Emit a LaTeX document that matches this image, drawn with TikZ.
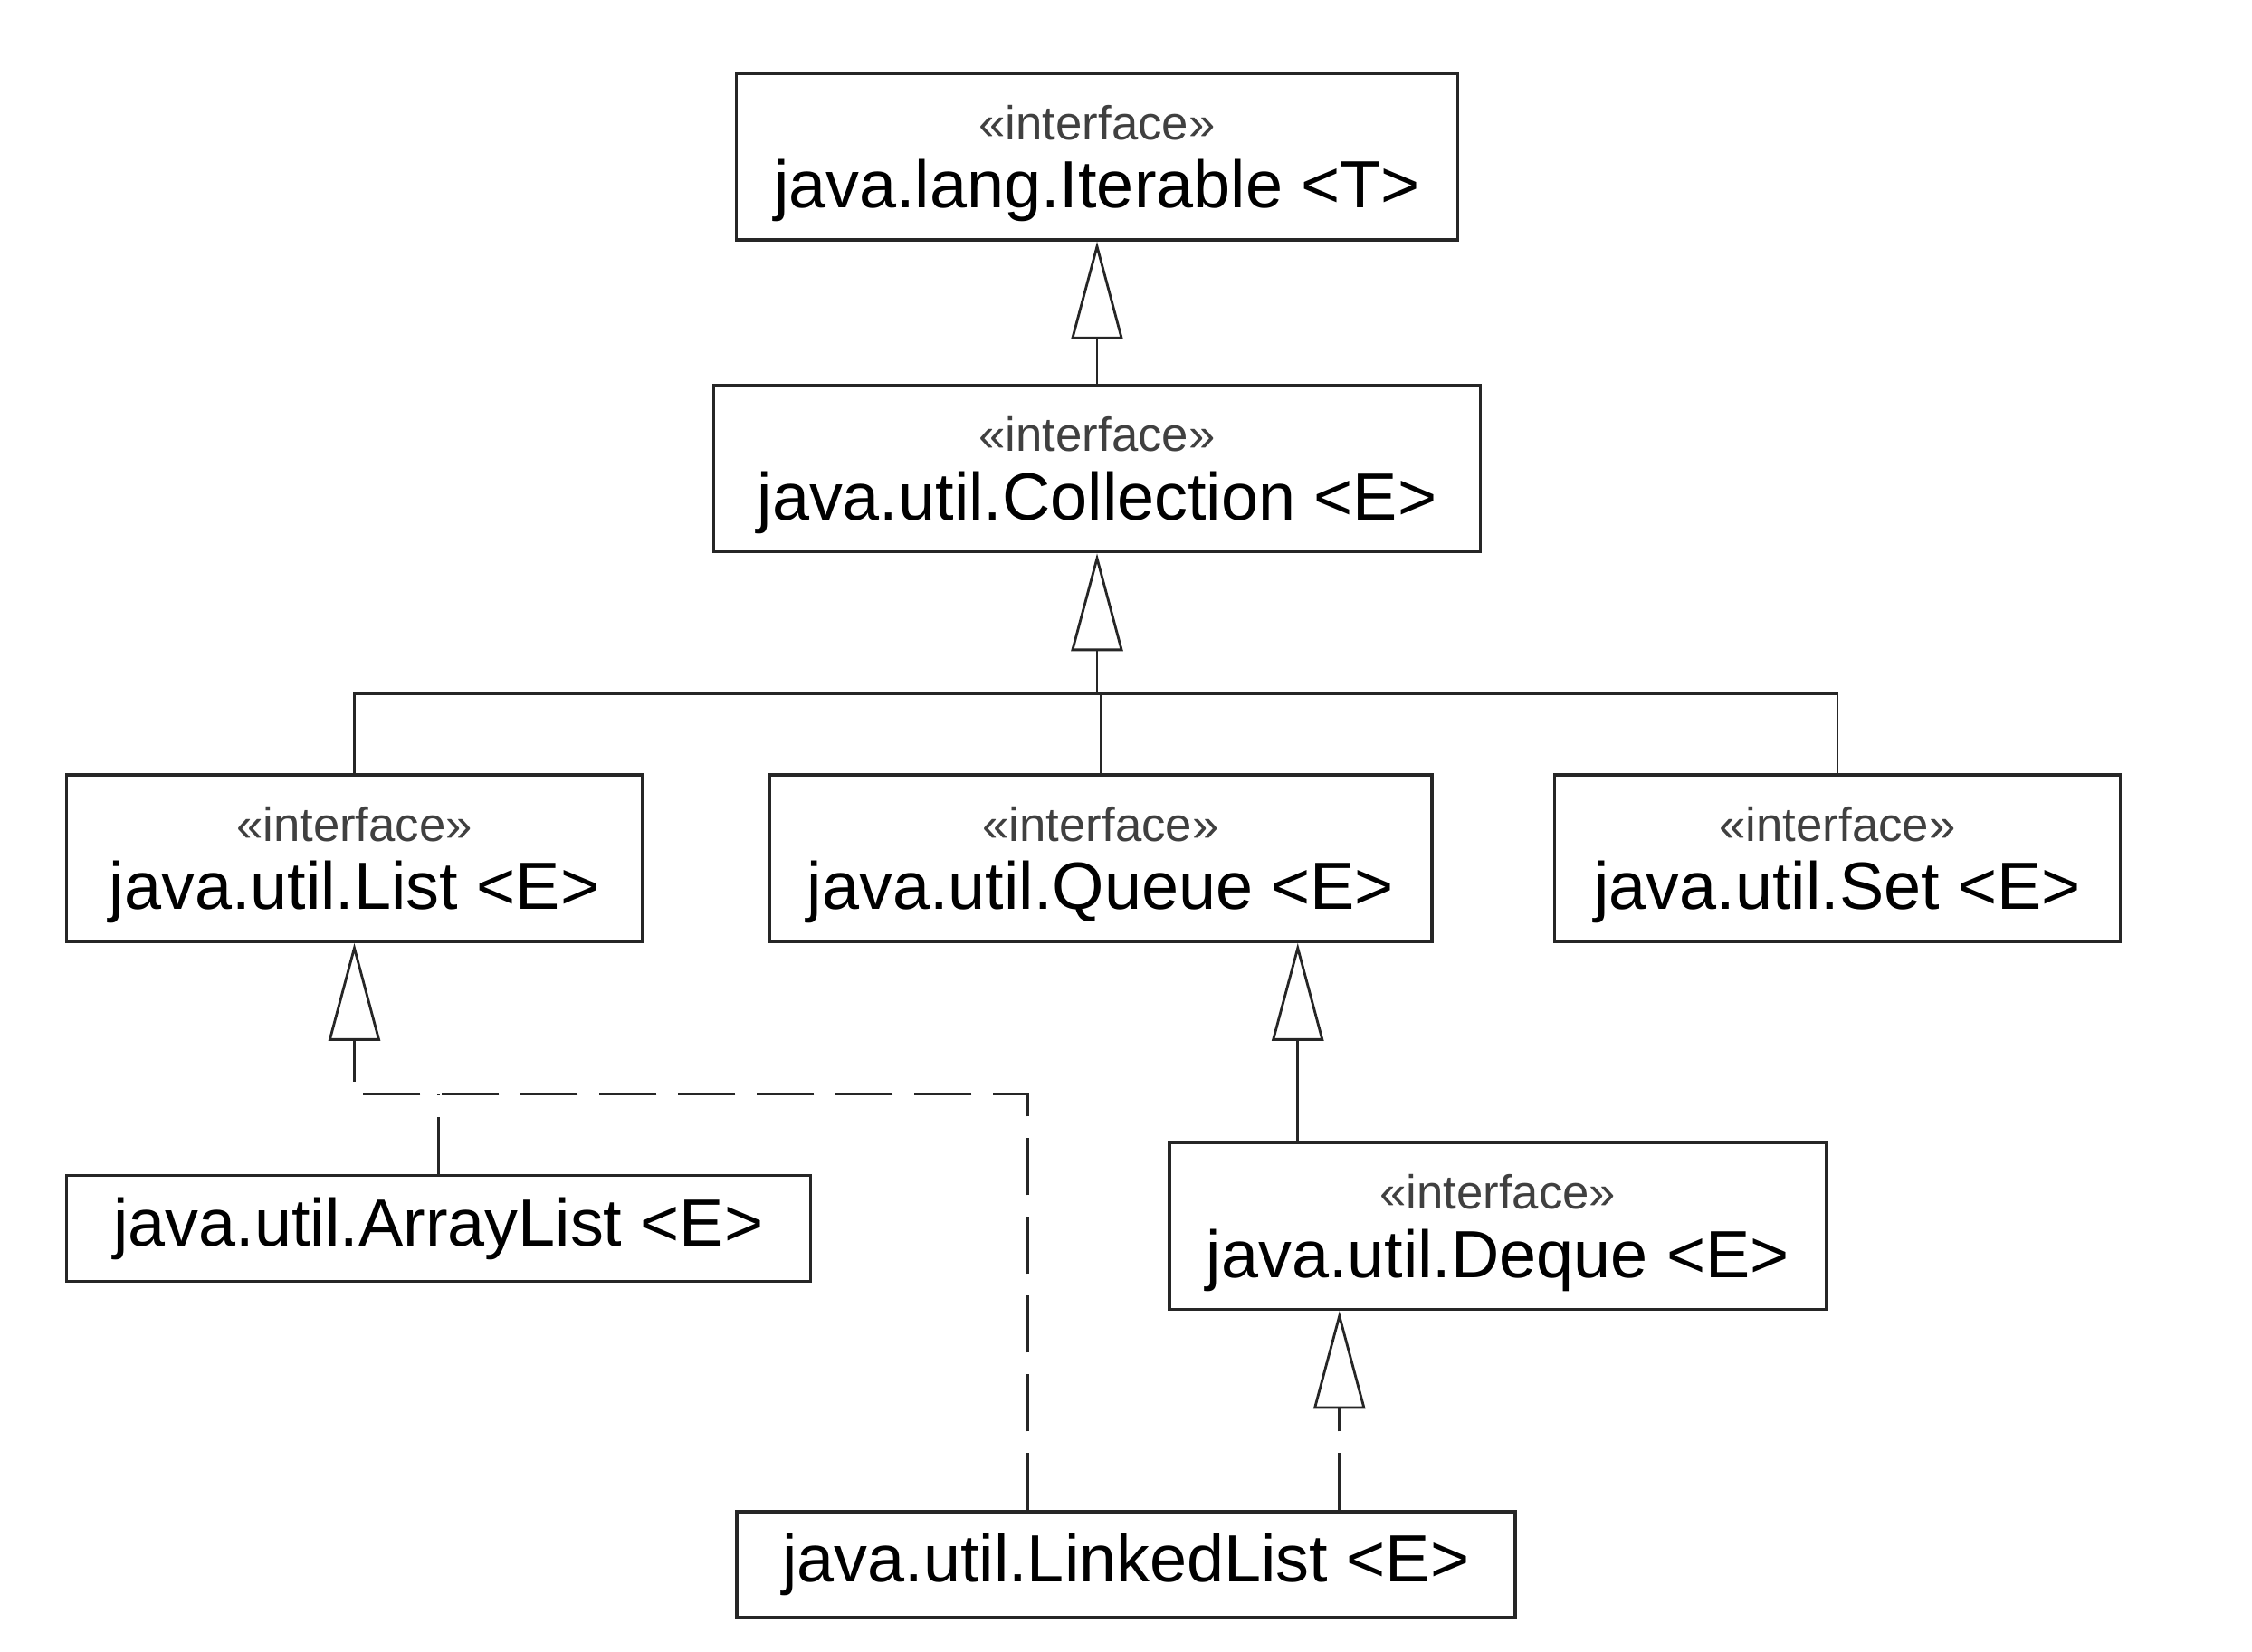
\documentclass[tikz,border=0pt]{standalone}
\usepackage{fontspec}
\setmainfont{Liberation Sans}
\usepackage{xcolor}
\usepackage{tikz}
\usetikzlibrary{arrows.meta,positioning}

\newcommand{\stereotype}{{\fontsize{15}{16}\selectfont\color{black!75}«interface»}}

\begin{document}
\begin{tikzpicture}[
        block/.style={rectangle, draw=black!85, line width=1pt, align=center, inner sep=0pt, font=\fontsize{21}{21.5}\selectfont},
        iface/.style={block, minimum height=1.84cm, text depth=0pt},
        classblock/.style={block, minimum height=1.17cm},
        linestyle/.style={line width=0.8pt, draw=black!85},
        dashline/.style={linestyle, dash pattern=on 0.63cm off 0.24cm},
        extendstyle/.style={linestyle, -{Triangle[open, length=1.08cm, width=0.57cm]}},
        implstyle/.style={dashline, -{Triangle[open, length=1.08cm, width=0.57cm]}}
    ]
        \useasboundingbox (0,0) rectangle (24.88,-18.24);

        \node[iface, minimum width=7.97cm] (iterable) at (12.12,-1.73) {\stereotype\\java.lang.Iterable <T>};
        \node[iface, minimum width=8.47cm, below=1.57cm of iterable] (collection) {\stereotype\\java.util.Collection <E>};
        \node[iface, minimum width=7.32cm, below=2.43cm of collection, xshift=0.04cm] (queue) {\stereotype\\java.util.Queue <E>};
        \node[iface, minimum width=6.36cm, left=1.37cm of queue] (list) {\stereotype\\java.util.List <E>};
        \node[iface, minimum width=6.25cm, right=1.32cm of queue] (set) {\stereotype\\java.util.Set <E>};
        \node[classblock, minimum width=8.22cm, below=2.55cm of list.south west, anchor=north west] (arraylist) {java.util.ArrayList <E>};
        \node[iface, minimum width=7.26cm, below=2.19cm of queue.south east, xshift=0.71cm] (deque) {\stereotype\\java.util.Deque <E>};
        \node[classblock, minimum width=8.6cm, below=2.2cm of deque.south, xshift=-4.11cm] (linkedlist) {java.util.LinkedList <E>};

        % bends of the connectors
        \coordinate[below=1.55cm of collection.south] (bus);
        \coordinate[below=1.67cm of list.south] (listbus);
        \coordinate[left=1.08cm of linkedlist.north] (llbend);
        \coordinate[left=2.21cm of deque.north] (dequeup);
        \coordinate[right=2.36cm of linkedlist.north] (llup);

        \draw[extendstyle] (collection) -- (iterable);
        \draw[linestyle] (list) |- (bus) -| (set);
        \draw[linestyle] (queue.north |- bus) -- (queue);
        \draw[extendstyle] (bus) -- (collection);
        \draw[extendstyle] (dequeup) -- (dequeup |- queue.south);
        \draw[implstyle] (llup) -- (llup |- deque.south);
        \draw[implstyle] (llbend) |- (listbus) -- (list);
        \draw[dashline] (arraylist) -- (arraylist |- listbus);
    \end{tikzpicture}
\end{document}
